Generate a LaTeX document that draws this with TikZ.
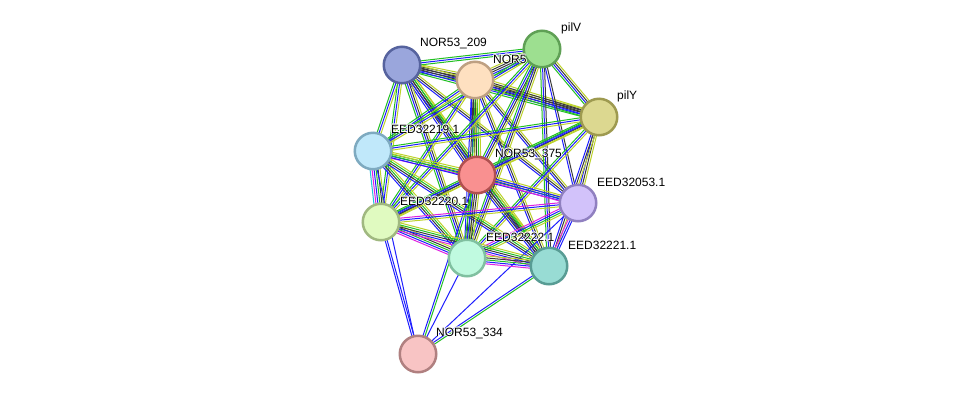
\documentclass[tikz,border=0pt]{standalone}
\usepackage{fontspec}
\setmainfont{Liberation Sans}
\usetikzlibrary{calc,backgrounds}
\definecolor{eG}{HTML}{22C022}
\definecolor{eB}{HTML}{1E1EFF}
\definecolor{eK}{HTML}{3A3A3A}
\definecolor{eY}{HTML}{BCD22A}
\definecolor{eM}{HTML}{E020E0}
\definecolor{eC}{HTML}{22C0E0}
\newcommand\edg[4]{%
  \foreach \col [count=\i] in {#4}{%
    \pgfmathsetmacro\off{(\i-(#3+1)/2)*2.0}%
    \draw[edgeline,draw=\col] ($(#1)!\off pt!90:(#2)$) -- ($(#2)!\off pt!-90:(#1)$);
  }}
\newcommand\lab[4]{% name, node, offset, text
  \foreach \hx/\hy [count=\k] in {-0.8/0,0.8/0,0/-0.8,0/0.8,-0.6/-0.6,0.6/0.6,-0.6/0.6,0.6/-0.6}{%
    \node[lbl,text=white,opacity=0.85] (#1h\k) at ($(#2)+(#3)+(\hx,\hy)$) {#4};
  }
  \node[lbl] (#1) at ($(#2)+(#3)$) {#4};
}
\begin{document}
\begin{tikzpicture}[x=1pt,y=-1pt,
  prot/.style={circle,minimum size=36.5pt,inner sep=0pt,line width=2.5pt},
  lbl/.style={anchor=west,inner sep=0pt,font=\fontsize{12}{14}\selectfont,text=black},
  edgeline/.style={line width=1pt}]
\useasboundingbox (0,0) rectangle (976,400);
% nodes
\node[prot,fill={rgb,255:red,154;green,166;blue,220},draw={rgb,255:red,86;green,99;blue,158}] (A) at (402,65) {};
\node[prot,fill={rgb,255:red,254;green,224;blue,192},draw={rgb,255:red,190;green,160;blue,130}] (F) at (475,80) {};
\node[prot,fill={rgb,255:red,157;green,223;blue,144},draw={rgb,255:red,95;green,160;blue,85}] (V) at (542,49) {};
\node[prot,fill={rgb,255:red,220;green,216;blue,144},draw={rgb,255:red,158;green,154;blue,80}] (Y) at (599,117) {};
\node[prot,fill={rgb,255:red,192;green,232;blue,250},draw={rgb,255:red,126;green,170;blue,192}] (E19) at (373,151) {};
\node[prot,fill={rgb,255:red,249;green,144;blue,144},draw={rgb,255:red,176;green,80;blue,80}] (R) at (477,175) {};
\node[prot,fill={rgb,255:red,210;green,194;blue,250},draw={rgb,255:red,144;green,128;blue,192}] (E53) at (578,203) {};
\node[prot,fill={rgb,255:red,224;green,250;blue,192},draw={rgb,255:red,160;green,184;blue,128}] (E20) at (381,222) {};
\node[prot,fill={rgb,255:red,192;green,250;blue,224},draw={rgb,255:red,128;green,192;blue,160}] (E22) at (467,258) {};
\node[prot,fill={rgb,255:red,152;green,220;blue,212},draw={rgb,255:red,88;green,156;blue,148}] (E21) at (549,266) {};
\node[prot,fill={rgb,255:red,248;green,196;blue,196},draw={rgb,255:red,176;green,128;blue,128}] (P) at (418,354) {};
% labels
\lab{lA}{A}{18,-22}{NOR53\_209}
\lab{lF}{F}{18,-21}{NOR5}
\lab{lV}{V}{19,-21}{pilV}
\lab{lY}{Y}{18,-21}{pilY}
\lab{lE19}{E19}{18,-22}{EED32219.1}
\lab{lR}{R}{18,-21}{NOR53\_375}
\lab{lE53}{E53}{19,-21}{EED32053.1}
\lab{lE20}{E20}{19,-21}{EED32220.1}
\lab{lE22}{E22}{19,-21}{EED32222.1}
\lab{lE21}{E21}{19,-21}{EED32221.1}
\lab{lP}{P}{18,-21}{NOR53\_334}
% edges
\begin{scope}[on background layer]
\fill[white] (0,0) rectangle (976,400);
\edg{A}{F}{5}{eG,eB,eK,eK,eY}
\edg{A}{V}{3}{eG,eB,eG}
\edg{A}{Y}{5}{eG,eB,eK,eK,eY}
\edg{A}{E19}{3}{eG,eB,eY}
\edg{A}{R}{5}{eB,eK,eK,eG,eY}
\edg{A}{E53}{3}{eB,eK,eY}
\edg{A}{E20}{3}{eG,eB,eY}
\edg{A}{E22}{4}{eG,eB,eK,eY}
\edg{A}{E21}{4}{eB,eK,eG,eY}
\edg{F}{V}{5}{eG,eB,eK,eK,eY}
\edg{F}{Y}{5}{eG,eB,eK,eK,eY}
\edg{F}{E19}{3}{eG,eB,eY}
\edg{F}{R}{5}{eB,eK,eK,eG,eY}
\edg{F}{E53}{3}{eB,eK,eY}
\edg{F}{E20}{3}{eG,eB,eY}
\edg{F}{E22}{4}{eB,eK,eG,eY}
\edg{F}{E21}{3}{eB,eK,eY}
\edg{V}{Y}{4}{eG,eB,eK,eY}
\edg{V}{E19}{3}{eG,eB,eY}
\edg{V}{R}{4}{eG,eB,eK,eY}
\edg{V}{E53}{2}{eB,eK}
\edg{V}{E20}{3}{eG,eB,eY}
\edg{V}{E22}{4}{eG,eB,eK,eY}
\edg{V}{E21}{3}{eG,eB,eK}
\edg{Y}{E19}{3}{eG,eB,eY}
\edg{Y}{R}{4}{eG,eB,eK,eY}
\edg{Y}{E53}{3}{eB,eK,eY}
\edg{Y}{E20}{3}{eG,eB,eY}
\edg{Y}{E22}{3}{eG,eB,eY}
\edg{Y}{E21}{3}{eB,eK,eY}
\edg{E19}{R}{4}{eM,eB,eG,eY}
\edg{E19}{E53}{3}{eB,eG,eY}
\edg{E19}{E20}{6}{eC,eM,eB,eG,eK,eY}
\edg{E19}{E22}{4}{eB,eK,eG,eY}
\edg{E19}{E21}{4}{eB,eK,eG,eY}
\edg{E19}{P}{1}{eB}
\edg{R}{E53}{4}{eM,eB,eB,eY}
\edg{R}{E20}{4}{eG,eB,eK,eY}
\edg{R}{E22}{5}{eG,eB,eK,eK,eY}
\edg{R}{E21}{5}{eB,eK,eK,eG,eY}
\edg{R}{P}{2}{eB,eG}
\edg{E53}{E20}{3}{eM,eB,eY}
\edg{E53}{E22}{4}{eM,eB,eG,eY}
\edg{E53}{E21}{3}{eM,eB,eB}
\edg{E53}{P}{1}{eB}
\edg{E20}{E22}{5}{eM,eB,eG,eK,eY}
\edg{E20}{E21}{5}{eM,eB,eK,eG,eY}
\edg{E20}{P}{2}{eB,eB}
\edg{E22}{E21}{5}{eM,eB,eG,eK,eY}
\edg{E22}{P}{1}{eB}
\edg{E21}{P}{2}{eB,eG}
\end{scope}
\end{tikzpicture}
\end{document}
